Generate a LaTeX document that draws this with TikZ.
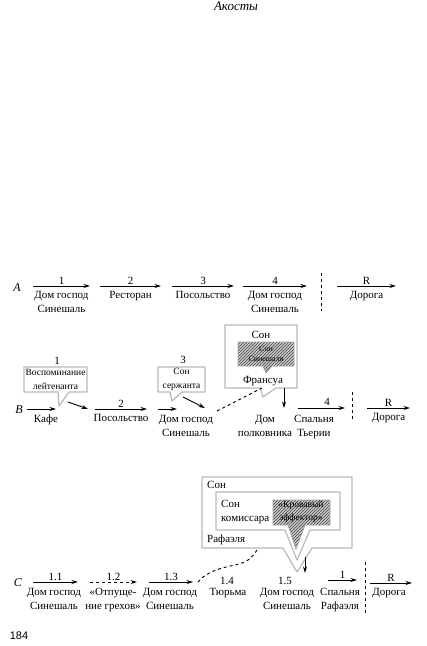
\documentclass[tikz,border=0pt]{standalone}
\usepackage{fontspec}
\setmainfont{Liberation Serif}
\setsansfont{Liberation Sans}
\usetikzlibrary{arrows.meta,patterns}

\begin{document}
\begin{tikzpicture}[x=1pt,y=-1pt]
  \tikzset{
    lbl/.style={font=\fontsize{11}{14}\selectfont,align=center,inner sep=1pt},
    num/.style={font=\fontsize{11}{13}\selectfont,inner sep=1pt},
    rowname/.style={font=\fontsize{12}{14}\selectfont\itshape,inner sep=0pt},
    small/.style={font=\fontsize{9.5}{13.5}\selectfont,align=center,inner sep=0pt},
    tiny/.style={font=\fontsize{8}{10.5}\selectfont,align=center,inner sep=0pt},
    arr/.style={-{Stealth[length=6.5pt,width=4pt]},line width=.9pt},
    sep/.style={dashed,line width=.9pt},
    bubble/.style={draw=gray!55,line width=1.2pt,fill=white,line join=round},
    hatched/.style={draw=gray!70,line width=.8pt,pattern=north east lines,pattern color=black!75,preaction={fill=gray!40}}
  }
  \path[use as bounding box,fill=white] (0,0) rectangle (427,646);
  \node[font=\fontsize{13}{15}\selectfont\itshape,inner sep=0pt] (title) at (236,6) {Акосты};
  \node[font=\sffamily\fontsize{11}{13}\selectfont,inner sep=0pt] (page) at (19,636) {184};

  % row A
  \node[rowname] (rA) at (17,288) {A};
  \coordinate (a1s) at (33,286); \coordinate (a1e) at (90,286);
  \coordinate (a2s) at (100,286); \coordinate (a2e) at (161,286);
  \coordinate (a3s) at (172,286); \coordinate (a3e) at (234,286);
  \coordinate (a4s) at (243,286); \coordinate (a4e) at (307,286);
  \coordinate (aRs) at (337,286); \coordinate (aRe) at (396,286);
  \draw[arr] (a1s) -- node[num,above] (na1) {1} node[lbl,below=4pt] (la1) {Дом господ\\Синешаль} (a1e);
  \draw[arr] (a2s) -- node[num,above] (na2) {2} node[lbl,below=4pt] (la2) {Ресторан} (a2e);
  \draw[arr] (a3s) -- node[num,above] (na3) {3} node[lbl,below=4pt] (la3) {Посольство} (a3e);
  \draw[arr] (a4s) -- node[num,above] (na4) {4} node[lbl,below=4pt] (la4) {Дом господ\\Синешаль} (a4e);
  \coordinate (aSt) at (321,273); \coordinate (aSb) at (321,311);
  \draw[sep] (aSt) -- (aSb);
  \draw[arr] (aRs) -- node[num,above] (naR) {R} node[lbl,below=4pt] (laR) {Дорога} (aRe);

  % row B
  \node[rowname] (rB) at (19,410) {B};
  \coordinate (b0s) at (27,409); \coordinate (b0e) at (56,409);
  \draw[arr] (b0s) -- (b0e);
  \node[lbl,anchor=north] (lb0) at (46,414) {Кафе};
  \draw[bubble] (24,367) -- (87,367) -- (87,392) -- (69,392) -- (59,406) -- (58,392) -- (24,392) -- cycle;
  \node[small] (cb1) at (55.5,379.5) {Воспоминание\\лейтенанта};
  \node[num] (nb1) at (57,361) {1};
  \coordinate (b1s) at (68,402); \coordinate (b1e) at (88,409);
  \draw[arr] (b1s) -- (b1e);
  \coordinate (b2s) at (95,409); \coordinate (b2e) at (147,409);
  \draw[arr] (b2s) -- node[num,above] (nb2) {2} node[lbl,below=4pt] (lb2) {Посольство} (b2e);
  \coordinate (b3s) at (158,409); \coordinate (b3e) at (177,409);
  \draw[arr] (b3s) -- (b3e);
  \draw[bubble] (158,367) -- (205,367) -- (205,392) -- (182,392) -- (172,401) -- (170,392) -- (158,392) -- cycle;
  \node[small] (cb3) at (181.5,379.5) {Сон\\сержанта};
  \node[num] (nb3) at (183,360) {3};
  \coordinate (b4s) at (183,397); \coordinate (b4e) at (205,408);
  \draw[arr] (b4s) -- (b4e);
  \node[lbl,anchor=north] (lb3) at (186,414) {Дом господ\\Синешаль};
  % dream of Francois
  \draw[bubble] (225,325) -- (297,325) -- (297,388) -- (276,388) -- (263,397) -- (260,388) -- (225,388) -- cycle;
  \node[lbl] (sonB) at (261,335) {Сон};
  \draw[hatched] (238,342) -- (294,342) -- (294,366) -- (272,366) -- (266,373) -- (263,366) -- (238,366) -- cycle;
  \node[tiny] (sinB) at (266,354) {Сон\\Синешаля};
  \node[lbl] (franB) at (263,381) {Франсуа};
  \coordinate (bd1) at (217,411); \coordinate (bd2) at (262,388);
  \draw[sep] (bd1) -- (bd2);
  \coordinate (b5s) at (284,388); \coordinate (b5e) at (284,408);
  \draw[arr] (b5s) -- (b5e);
  \node[lbl,anchor=north] (lb5) at (265,414) {Дом\\полковника};
  \coordinate (b6s) at (298,408); \coordinate (b6e) at (345,408);
  \draw[arr] (b6s) -- (b6e);
  \node[num] (nb6) at (327,402) {4};
  \node[lbl,anchor=north] (lb6) at (314,414) {Спальня\\Тьерии};
  \coordinate (bSt) at (352,392); \coordinate (bSb) at (352,420);
  \draw[sep] (bSt) -- (bSb);
  \coordinate (bRs) at (367,408); \coordinate (bRe) at (410,408);
  \draw[arr] (bRs) -- node[num,above] (nbR) {R} node[lbl,below=4pt] (lbR) {Дорога} (bRe);

  % row C
  \node[rowname] (rC) at (18,583) {C};
  \coordinate (c1s) at (33,582); \coordinate (c1e) at (78,582);
  \draw[arr] (c1s) -- node[num,above] (nc1) {1.1} (c1e);
  \node[lbl,anchor=north] (lc1) at (54,587) {Дом господ\\Синешаль};
  \coordinate (c2s) at (90,582); \coordinate (c2e) at (137,582);
  \draw[arr,dashed] (c2s) -- node[num,above] (nc2) {1.2} (c2e);
  \node[lbl,anchor=north] (lc2) at (113,587) {«Отпуще-\\ние грехов»};
  \coordinate (c3s) at (149,582); \coordinate (c3e) at (193,582);
  \draw[arr] (c3s) -- node[num,above] (nc3) {1.3} (c3e);
  \node[lbl,anchor=north] (lc3) at (170,587) {Дом господ\\Синешаль};
  \coordinate (cw0) at (198,582); \coordinate (cw1) at (257,550);
  \draw[sep] (cw0) .. controls (206,572) and (220,568) .. (235,565) .. controls (248,562) and (252,558) .. (cw1);
  \node[num] (nc4) at (227,581) {1.4};
  \node[lbl,anchor=north] (lc4) at (228,587) {Тюрьма};
  \node[num] (nc5) at (285,581) {1.5};
  \node[lbl,anchor=north] (lc5) at (287,587) {Дом господ\\Синешаль};
  % dream of Raphael
  \draw[bubble] (202,477) -- (352,477) -- (352,548) -- (312,548) -- (297,572) -- (283,548) -- (202,548) -- cycle;
  \node[lbl,anchor=west] (sonC) at (206,485) {Сон};
  \node[lbl,anchor=west] (rafC) at (206,540) {Рафаэля};
  \draw[bubble] (216,492) -- (340,492) -- (340,530) -- (310,530) -- (297,560) -- (285,530) -- (216,530) -- cycle;
  \node[lbl,anchor=west,align=left] (komC) at (220,512) {Сон\\комиссара};
  \draw[hatched] (273,500) -- (330,500) -- (330,525) -- (305,525) -- (296,549) -- (288,525) -- (273,525) -- cycle;
  \node[small] (krovC) at (301,512) {«Кровавый\\эффектор»};
  \coordinate (c5s) at (305,557); \coordinate (c5e) at (305,573);
  \draw[arr] (c5s) -- (c5e);
  \coordinate (c6s) at (328,580); \coordinate (c6e) at (357,580);
  \draw[arr] (c6s) -- node[num,above] (nc6) {1} (c6e);
  \node[lbl,anchor=north] (lc6) at (340,587) {Спальня\\Рафаэля};
  \coordinate (cSt) at (365,562); \coordinate (cSb) at (365,615);
  \draw[sep] (cSt) -- (cSb);
  \coordinate (cRs) at (370,583); \coordinate (cRe) at (412,583);
  \draw[arr] (cRs) -- node[num,above] (ncR) {R} (cRe);
  \node[lbl,anchor=north] (lcR) at (389,587) {Дорога};
\end{tikzpicture}
\end{document}
